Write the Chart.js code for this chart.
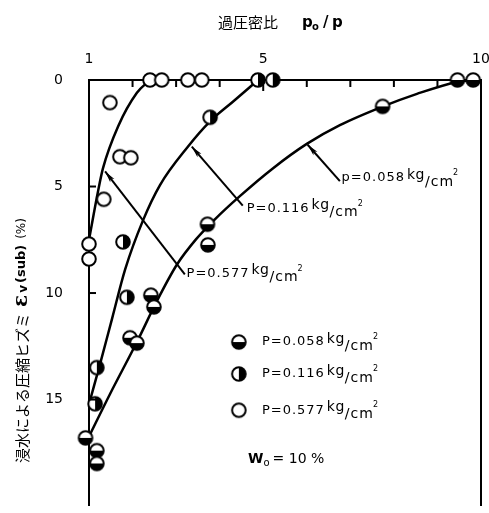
<!DOCTYPE html>
<html>
<head>
<meta charset="utf-8">
<script src="https://cdn.jsdelivr.net/npm/chart.js@4.4.1/dist/chart.umd.min.js"></script>
<style>
  html, body { margin: 0; padding: 0; background: #fff; }
  #wrap { width: 489px; height: 513px; }
</style>
</head>
<body>
<div id="wrap"><canvas id="grafico"></canvas></div>
<script>
// eixos
const xTickLabels = [1, 5, 10];
const yTickLabels = [0, 5, 10, 15];

// pontos medidos (razão de sobreadensamento, deformação %)
const ratio058 = [9.46, 9.82, 7.74, 3.72, 3.73, 2.42, 2.49, 1.94, 2.10, 0.92, 1.18, 1.18];
const strain058 = [0, 0, 1.24, 6.77, 7.74, 10.1, 10.65, 12.1, 12.35, 16.8, 17.4, 18.0];

const ratio116 = [4.88, 5.22, 3.78, 1.78, 1.87, 1.18, 1.14];
const strain116 = [0, 0, 1.75, 7.6, 10.2, 13.5, 15.2];

const ratio577 = [2.40, 2.67, 3.27, 3.59, 1.48, 1.71, 1.96, 1.34, 1.0, 1.0];
const strain577 = [0, 0, 0, 0, 1.06, 3.6, 3.65, 5.6, 7.7, 8.4];

// curvas ajustadas
const curve058X = [0.98, 1.48, 2.10, 2.56, 3.02, 3.46, 3.89, 4.47, 5.22, 6.0, 6.76, 7.75, 8.53, 9.45, 9.82];
const curve058Y = [16.82, 14.75, 12.3, 10.37, 8.66, 7.47, 6.54, 5.44, 4.15, 3.0, 2.12, 1.24, 0.65, 0.09, 0];

const curve116X = [1.02, 1.25, 1.53, 1.83, 2.24, 2.63, 3.27, 3.78, 4.31, 4.88];
const curve116Y = [15.07, 13.36, 11.2, 8.89, 6.59, 4.93, 3.13, 1.94, 1.01, 0];

const curve577X = [1.0, 1.21, 1.32, 1.67, 2.10, 2.40];
const curve577Y = [7.5, 5.2, 4.15, 2.17, 0.6, 0];

// setas: [x inicio, y inicio, x ponta, y ponta]
const arrow058 = [6.76, 4.75, 6.02, 3.04];
const arrow116 = [4.53, 5.9, 3.36, 3.13];
const arrow577 = [3.20, 9.12, 1.37, 4.29];

// rótulos das curvas: [x, y]
const label058 = [6.80, 4.6];
const label116 = [4.62, 6.04];
const label577 = [3.24, 9.08];

// legenda interna
const legendX = 4.44;
const legendTextX = 4.97;
const legendY = [12.3, 13.8, 15.5];
const legendValues = ['0.058', '0.116', '0.577'];
const waterContent = [4.65, 17.8];

function pares(xs, ys) {
    return xs.map((x, i) => ({ x: x, y: ys[i] }));
}

// Função para desenhar os marcadores meio preenchidos
function criarMarcador(tipo) {
    const c = document.createElement('canvas');
    c.width = 18;
    c.height = 18;
    const g = c.getContext('2d');
    const r = 6.8;
    g.beginPath();
    g.arc(9, 9, r, 0, Math.PI * 2);
    g.fillStyle = '#fff';
    g.fill();
    g.fillStyle = '#000';
    if (tipo === 'baixo') {
        g.beginPath();
        g.arc(9, 9, r, 0, Math.PI);
        g.fill();
    } else if (tipo === 'direita') {
        g.beginPath();
        g.arc(9, 9, r, -Math.PI / 2, Math.PI / 2);
        g.fill();
    }
    g.beginPath();
    g.arc(9, 9, r, 0, Math.PI * 2);
    g.lineWidth = 2;
    g.strokeStyle = '#000';
    g.stroke();
    return c;
}

const marcador058 = criarMarcador('baixo');
const marcador116 = criarMarcador('direita');
const marcador577 = criarMarcador('vazio');
const marcadores = [marcador058, marcador116, marcador577];

function textoPressao(ctx, x, y, prefixo, valor) {
    ctx.save();
    ctx.textAlign = 'left';
    ctx.textBaseline = 'middle';
    ctx.fillStyle = '#000';
    ctx.letterSpacing = '1px';
    ctx.font = '13px "DejaVu Sans"';
    const t = prefixo + '=' + valor;
    ctx.fillText(t, x, y);
    let w = x + ctx.measureText(t).width + 2;
    ctx.letterSpacing = '0.5px';
    ctx.font = '14px "DejaVu Sans"';
    ctx.fillText('kg', w, y - 3);
    w += ctx.measureText('kg').width;
    ctx.letterSpacing = '1px';
    ctx.fillText('/cm', w, y + 4);
    w += ctx.measureText('/cm').width - 1;
    ctx.letterSpacing = '0px';
    ctx.font = '8px "DejaVu Sans"';
    ctx.fillText('2', w, y - 5);
    ctx.restore();
}

function seta(ctx, xs, ys, a) {
    const x1 = xs.getPixelForValue(a[0]), y1 = ys.getPixelForValue(a[1]);
    const x2 = xs.getPixelForValue(a[2]), y2 = ys.getPixelForValue(a[3]);
    const ang = Math.atan2(y2 - y1, x2 - x1);
    ctx.beginPath();
    ctx.moveTo(x1, y1);
    ctx.lineTo(x2, y2);
    ctx.stroke();
    ctx.beginPath();
    ctx.moveTo(x2, y2);
    ctx.lineTo(x2 - 12 * Math.cos(ang - 0.22), y2 - 12 * Math.sin(ang - 0.22));
    ctx.lineTo(x2 - 9 * Math.cos(ang), y2 - 9 * Math.sin(ang));
    ctx.lineTo(x2 - 12 * Math.cos(ang + 0.22), y2 - 12 * Math.sin(ang + 0.22));
    ctx.closePath();
    ctx.fill();
}

const extras = {
    id: 'extras',
    afterDatasetsDraw(chart) {
        const ctx = chart.ctx;
        const xs = chart.scales.x, ys = chart.scales.y;
        const area = chart.chartArea;
        ctx.save();
        ctx.strokeStyle = '#000';
        ctx.fillStyle = '#000';
        ctx.lineWidth = 2;

        // marcas internas dos eixos
        xs.ticks.forEach(t => {
            if (t.value === 1 || t.value === 10) return;
            const px = xs.getPixelForValue(t.value);
            ctx.beginPath();
            if (t.value === 5) {
                ctx.moveTo(px, area.top - 5);
                ctx.lineTo(px, area.top + 11);
            } else {
                ctx.moveTo(px, area.top);
                ctx.lineTo(px, area.top + 7);
            }
            ctx.stroke();
        });
        ys.ticks.forEach(t => {
            if (t.value === 0) return;
            const py = ys.getPixelForValue(t.value);
            ctx.beginPath();
            ctx.moveTo(area.left, py);
            ctx.lineTo(area.left + 7, py);
            ctx.stroke();
        });

        // setas
        seta(ctx, xs, ys, arrow058);
        seta(ctx, xs, ys, arrow116);
        seta(ctx, xs, ys, arrow577);

        // rótulos
        textoPressao(ctx, xs.getPixelForValue(label058[0]), ys.getPixelForValue(label058[1]), 'p', '0.058');
        textoPressao(ctx, xs.getPixelForValue(label116[0]), ys.getPixelForValue(label116[1]), 'P', '0.116');
        textoPressao(ctx, xs.getPixelForValue(label577[0]), ys.getPixelForValue(label577[1]), 'P', '0.577');

        // legenda
        legendY.forEach((ly, i) => {
            const px = xs.getPixelForValue(legendX), py = ys.getPixelForValue(ly);
            ctx.drawImage(marcadores[i], px - 9, py - 9);
            textoPressao(ctx, xs.getPixelForValue(legendTextX), py, 'P', legendValues[i]);
        });

        const wx = xs.getPixelForValue(waterContent[0]), wy = ys.getPixelForValue(waterContent[1]);
        ctx.textBaseline = 'middle';
        ctx.textAlign = 'left';
        ctx.font = 'bold 14px "DejaVu Sans"';
        ctx.fillText('W', wx, wy);
        let w = wx + ctx.measureText('W').width;
        ctx.font = '10px "DejaVu Sans"';
        ctx.fillText('o', w, wy + 4);
        w += ctx.measureText('o').width + 3;
        ctx.font = '14px "DejaVu Sans"';
        ctx.fillText('= 10 %', w, wy);
        ctx.restore();
    },
    afterDraw(chart) {
        const ctx = chart.ctx;
        ctx.save();
        ctx.fillStyle = '#000';
        ctx.textBaseline = 'middle';
        ctx.textAlign = 'left';

        // título superior
        ctx.font = '15px "Noto Sans CJK JP"';
        ctx.fillText('過圧密比', 218, 22);
        ctx.font = 'bold 15px "DejaVu Sans"';
        ctx.fillText('p', 302, 23);
        ctx.font = 'bold 10px "DejaVu Sans"';
        ctx.fillText('o', 312, 27);
        ctx.font = 'bold 15px "DejaVu Sans"';
        ctx.fillText('/', 323, 23);
        ctx.fillText('p', 332, 23);

        // título vertical
        ctx.translate(22, 463);
        ctx.rotate(-Math.PI / 2);
        ctx.font = '15px "Noto Sans CJK JP"';
        ctx.fillText('浸水による圧縮ヒズミ', 0, 0);
        let w = ctx.measureText('浸水による圧縮ヒズミ').width + 6;
        ctx.font = 'bold 20px "DejaVu Serif"';
        ctx.fillText('ε', w, 0);
        w += ctx.measureText('ε').width + 2;
        ctx.font = 'bold 12px "DejaVu Sans"';
        ctx.fillText('v', w, 2);
        w += ctx.measureText('v').width + 2;
        ctx.font = 'bold 13px "DejaVu Sans"';
        ctx.fillText('(sub)', w, 0);
        w += ctx.measureText('(sub)').width + 6;
        ctx.font = '12px "DejaVu Sans"';
        ctx.fillText('(%)', w, 0);
        ctx.restore();
    }
};

function pontos(xs, ys, img) {
    return {
        data: pares(xs, ys),
        pointStyle: img,
        pointRadius: 7,
        pointHoverRadius: 7,
        showLine: false,
        clip: false
    };
}

function curva(xs, ys) {
    return {
        data: pares(xs, ys),
        showLine: true,
        pointRadius: 0,
        borderColor: '#000',
        borderWidth: 2.5,
        cubicInterpolationMode: 'monotone',
        clip: false
    };
}

// zera os recuos que o Chart.js reserva para os rótulos das pontas
function semRecuo(largura, altura) {
    return s => {
        if (largura !== null) s.width = largura;
        if (altura !== null) s.height = altura;
        s.paddingTop = 0;
        s.paddingBottom = 0;
        s.paddingLeft = 0;
        s.paddingRight = 0;
    };
}

function main() {
    const ctx = document.getElementById('grafico').getContext('2d');
    new Chart(ctx, {
        type: 'scatter',
        data: {
            datasets: [
                pontos(ratio058, strain058, marcador058),
                pontos(ratio116, strain116, marcador116),
                pontos(ratio577, strain577, marcador577),
                curva(curve058X, curve058Y),
                curva(curve116X, curve116Y),
                curva(curve577X, curve577Y)
            ]
        },
        options: {
            responsive: true,
            maintainAspectRatio: false,
            animation: false,
            events: [],
            layout: { padding: 0 },
            plugins: { legend: { display: false }, tooltip: { enabled: false } },
            scales: {
                x: {
                    type: 'linear',
                    position: 'top',
                    min: 1,
                    max: 10,
                    afterFit: semRecuo(null, 80),
                    grid: { display: false, drawTicks: false },
                    border: { display: true, color: '#000', width: 2 },
                    ticks: {
                        stepSize: 1,
                        padding: 12,
                        color: '#000',
                        font: { family: 'DejaVu Sans', size: 14 },
                        callback: v => xTickLabels.includes(v) ? String(v) : ''
                    }
                },
                y: {
                    type: 'linear',
                    position: 'left',
                    reverse: true,
                    min: 0,
                    max: 19.95,
                    afterFit: semRecuo(89, null),
                    grid: { display: false, drawTicks: false },
                    border: { display: true, color: '#000', width: 2 },
                    ticks: {
                        stepSize: 5,
                        includeBounds: false,
                        padding: 26,
                        color: '#000',
                        font: { family: 'DejaVu Sans', size: 14 },
                        callback: v => yTickLabels.includes(v) ? String(v) : ''
                    }
                },
                y2: {
                    type: 'linear',
                    position: 'right',
                    min: 0,
                    max: 1,
                    afterFit: semRecuo(8, null),
                    grid: { display: false, drawTicks: false },
                    border: { display: true, color: '#000', width: 2 },
                    ticks: { display: false }
                }
            }
        },
        plugins: [extras]
    });
}

document.addEventListener('DOMContentLoaded', main);
</script>
</body>
</html>
